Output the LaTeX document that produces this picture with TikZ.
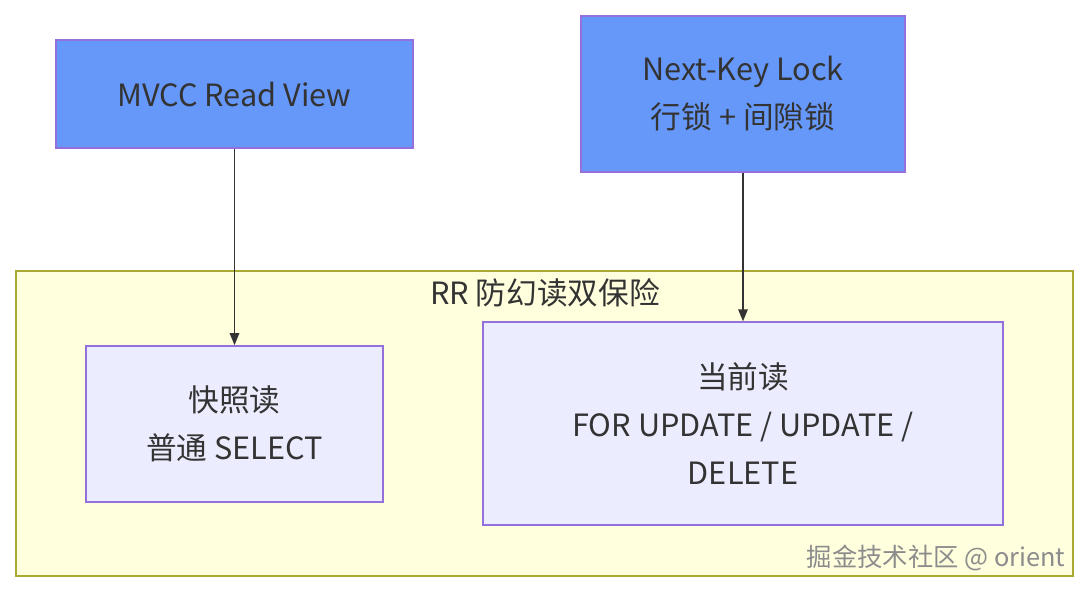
\documentclass[tikz,border=0pt]{standalone}
\usepackage{fontspec}
\setmainfont{Noto Sans CJK SC}
\usetikzlibrary{positioning,arrows.meta,backgrounds}

\definecolor{topfill}{HTML}{6698FA}
\definecolor{subfill}{HTML}{ECECFF}
\definecolor{edgeclr}{HTML}{9370DB}
\definecolor{grpfill}{HTML}{FFFFDE}
\definecolor{grpline}{HTML}{AAAA33}
\definecolor{txt}{HTML}{333333}

\begin{document}
\begin{tikzpicture}[
  x=0.75pt, y=-0.75pt,
  font=\fontsize{23}{36}\selectfont,
  >={Triangle[length=9pt,width=7pt]},
  src/.style={draw=edgeclr, line width=1.2pt, fill=topfill, text=txt, align=center, inner sep=0pt},
  sub/.style={draw=edgeclr, line width=1.2pt, fill=subfill, text=txt, align=center, inner sep=0pt},
  grp/.style={draw=grpline, line width=1.2pt, fill=grpfill, inner sep=0pt},
  sig/.style={->, line width=1.3pt, draw=txt}
]
\useasboundingbox (0,0) rectangle (1089,592);

% RR cluster
\node[grp, minimum width=793pt, minimum height=229pt] (rr) at (544.5,423.5) {};
\node[text=txt, anchor=north] (rrtitle) at (545,274) {RR 防幻读双保险};

% sources
\node[src, minimum width=268pt, minimum height=81pt] (mvcc) at (234.5,94) {MVCC Read View};
\node[src, minimum width=243pt, minimum height=117pt] (nkl) at (743,94) {Next-Key Lock\\行锁 + 间隙锁};

% reads
\node[sub, minimum width=223pt, minimum height=117pt] (snap) at (234.5,424) {快照读\\普通 SELECT};
\node[sub, minimum width=390pt, minimum height=152pt] (cur) at (743,423.5) {当前读\\FOR UPDATE / UPDATE /\\DELETE};

\draw[sig] (mvcc) -- (snap);
\draw[sig] (nkl) -- (cur);

% watermark
\node[text=black!45, anchor=east, font=\fontsize{19}{22}\selectfont] (wm) at (1070,558) {掘金技术社区 @ orient};
\end{tikzpicture}
\end{document}
